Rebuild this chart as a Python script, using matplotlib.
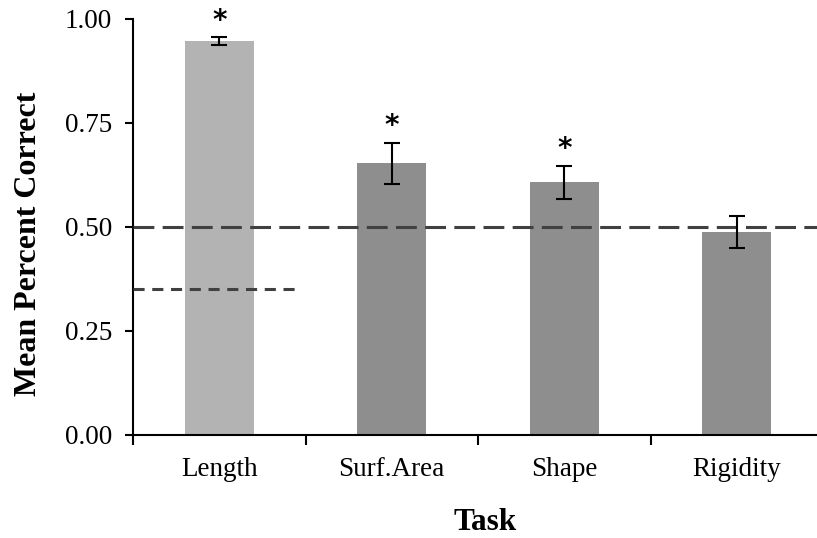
import matplotlib
matplotlib.use("Agg")
import matplotlib.pyplot as plt
import numpy as np

categories = ["Length", "Surf.Area", "Shape", "Rigidity"]
means = [0.947, 0.653, 0.607, 0.488]
errors = [0.009, 0.050, 0.039, 0.038]
significant = [True, True, True, False]
bar_colors = ["#b3b3b3", "#8e8e8e", "#8e8e8e", "#8e8e8e"]
chance_main = 0.50
chance_length = 0.35
chance_length_span = (-0.5, 0.445)
yticks = [0.00, 0.25, 0.50, 0.75, 1.00]

plt.rcParams['font.family'] = ['Liberation Serif', 'DejaVu Serif']
plt.rcParams['lines.scale_dashes'] = False

fig = plt.figure(figsize=(8.17, 5.38), dpi=100)
ax = fig.add_axes([133/817, 1-435/538, 690/817, (435-19)/538])

x = np.arange(len(categories))
ax.bar(x, means, width=0.4, color=bar_colors, edgecolor="none", zorder=2)
ax.errorbar(x, means, yerr=errors, fmt="none", ecolor="black",
            elinewidth=1.5, capsize=6, capthick=1.5, zorder=4)

for xi, m, e, s in zip(x, means, errors, significant):
    if s:
        ax.annotate("*", (xi, m + e), xytext=(0, 2), textcoords="offset points",
                    ha="center", va="bottom", fontsize=20, fontweight="bold",
                    family=["DejaVu Sans"])

ax.axhline(chance_main, color="#404040", lw=2.2, dashes=(15, 6), zorder=3)
ax.plot(chance_length_span, [chance_length, chance_length], color="#404040",
        lw=2.2, dashes=(8, 5.5), zorder=3)

ax.set_xlim(-0.5, len(categories) - 0.5)
ax.set_ylim(0, 1.0)
ax.set_yticks(yticks)
ax.set_yticklabels([f"{v:.2f}" for v in yticks])

ax.set_xticks(np.arange(-0.5, len(categories), 1.0))
ax.set_xticklabels([])
ax.set_xticks(x, minor=True)
ax.set_xticklabels(categories, minor=True)
ax.tick_params(axis="x", which="major", direction="out", length=7, width=1.5)
ax.tick_params(axis="x", which="minor", length=0, pad=16, labelsize=19.5)
ax.tick_params(axis="y", direction="out", length=6, width=1.5, pad=9, labelsize=19.5)

for sp in ["top", "right"]:
    ax.spines[sp].set_visible(False)
for sp in ["left", "bottom"]:
    ax.spines[sp].set_linewidth(1.5)

ax.set_ylabel("Mean Percent Correct", fontsize=23, fontweight="bold")
ax.set_xlabel("Task", fontsize=22.5, fontweight="bold")
ax.yaxis.set_label_coords(-0.130, 0.46)
ax.xaxis.set_label_coords(0.51, -0.176)

fig.savefig("out.png", dpi=100)
